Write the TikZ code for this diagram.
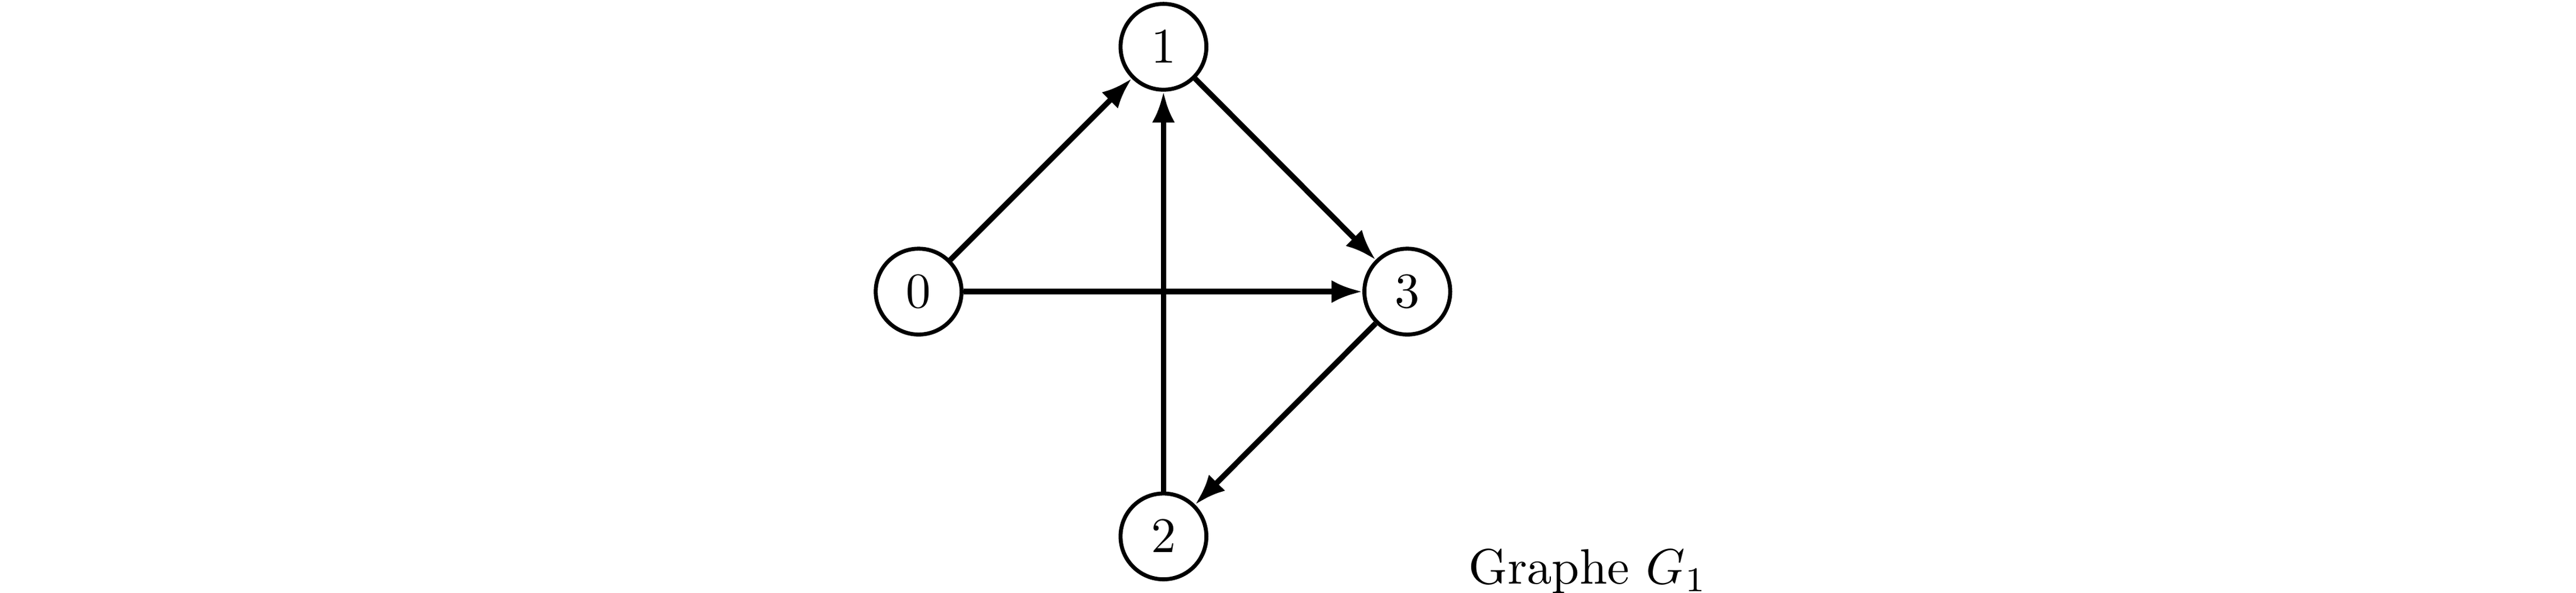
\documentclass[tikz,border=0pt]{standalone}
\usetikzlibrary{arrows.meta}
\tikzset{
  vertex/.style={circle,draw,line width=0.8pt,minimum size=17.25pt,inner sep=0pt},
  edgearrow/.style={line width=1.1pt,-{Latex[length=6.2pt,width=4.6pt]}},
  caption/.style={anchor=base west,inner sep=0pt}
}
\begin{document}
\begin{tikzpicture}[x=1pt,y=1pt]
\useasboundingbox (0,0) rectangle (517.65,-119.06);
\node[vertex] (n0) at (184.6,-58.6) {$0$};
\node[vertex] (n1) at (233.8,-9.4) {$1$};
\node[vertex] (n2) at (233.8,-107.8) {$2$};
\node[vertex] (n3) at (282.8,-58.6) {$3$};
\node[caption] (lab) at (294.9,-117.4) {Graphe $G_1$};
\draw[edgearrow] (n0) -- (n1);
\draw[edgearrow] (n0) -- (n3);
\draw[edgearrow] (n1) -- (n3);
\draw[edgearrow] (n3) -- (n2);
\draw[edgearrow] (n2) -- (n1);
\end{tikzpicture}
\end{document}
